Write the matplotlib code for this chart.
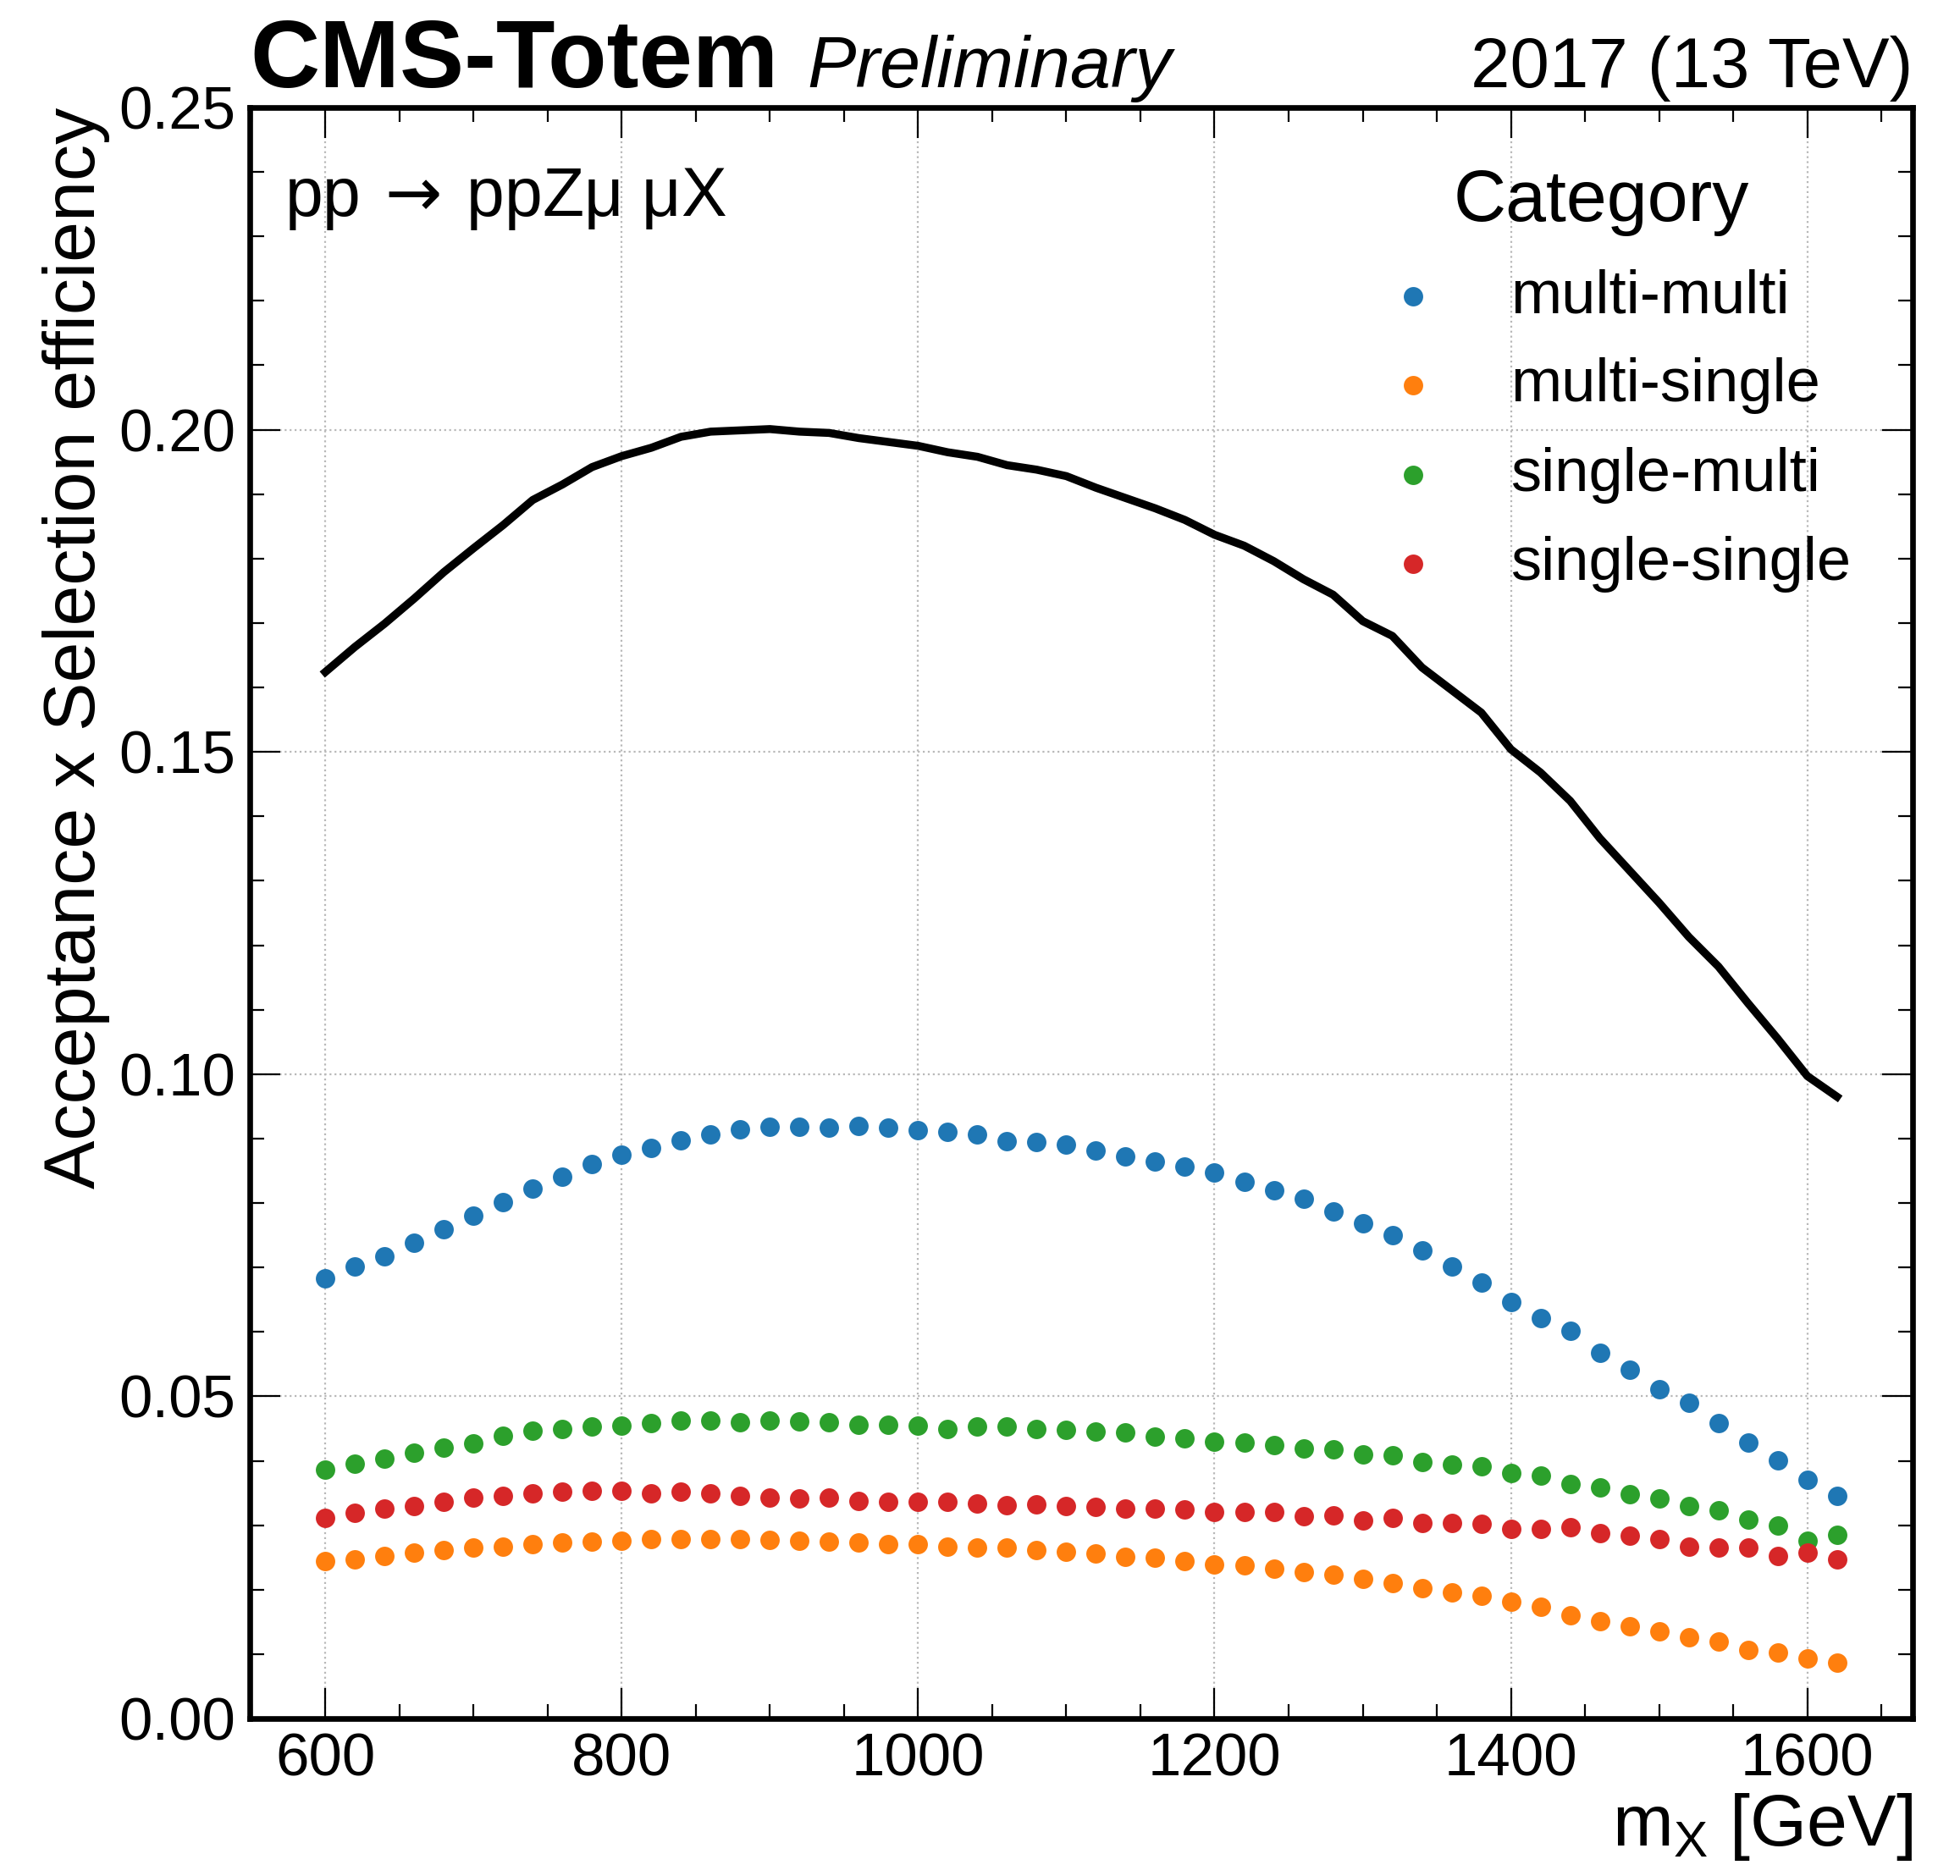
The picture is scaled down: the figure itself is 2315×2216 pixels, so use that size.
import matplotlib
matplotlib.use("Agg")
import matplotlib.pyplot as plt
from matplotlib.ticker import MultipleLocator, FormatStrFormatter
import numpy as np

plt.rcParams["font.family"] = ["Liberation Sans", "DejaVu Sans"]
plt.rcParams["mathtext.fontset"] = "custom"
plt.rcParams["mathtext.rm"] = "Liberation Sans"
plt.rcParams["mathtext.it"] = "Liberation Sans:italic"
plt.rcParams["mathtext.bf"] = "Liberation Sans:bold"

# Mass points [GeV]
mass = [600, 620, 640, 660, 680, 700, 720, 740, 760, 780,
        800, 820, 840, 860, 880, 900, 920, 940, 960, 980,
        1000, 1020, 1040, 1060, 1080, 1100, 1120, 1140, 1160, 1180,
        1200, 1220, 1240, 1260, 1280, 1300, 1320, 1340, 1360, 1380,
        1400, 1420, 1440, 1460, 1480, 1500, 1520, 1540, 1560, 1580,
        1600, 1620]

categories = ["multi-multi", "multi-single", "single-multi", "single-single"]

eff_multi_multi = [0.0683, 0.0702, 0.0718, 0.0738, 0.0759, 0.0781, 0.0801, 0.0823, 0.0841, 0.0860,
                   0.0875, 0.0885, 0.0897, 0.0906, 0.0915, 0.0918, 0.0918, 0.0917, 0.0920, 0.0917,
                   0.0913, 0.0911, 0.0906, 0.0896, 0.0895, 0.0891, 0.0881, 0.0873, 0.0864, 0.0857,
                   0.0847, 0.0833, 0.0820, 0.0807, 0.0787, 0.0768, 0.0750, 0.0727, 0.0702, 0.0677,
                   0.0646, 0.0622, 0.0602, 0.0568, 0.0541, 0.0511, 0.0490, 0.0458, 0.0429, 0.0401,
                   0.0370, 0.0346]

eff_multi_single = [0.0244, 0.0247, 0.0252, 0.0257, 0.0262, 0.0265, 0.0267, 0.0271, 0.0273, 0.0275,
                    0.0276, 0.0278, 0.0278, 0.0279, 0.0278, 0.0277, 0.0276, 0.0275, 0.0273, 0.0271,
                    0.0271, 0.0267, 0.0265, 0.0265, 0.0261, 0.0259, 0.0256, 0.0251, 0.0250, 0.0244,
                    0.0239, 0.0238, 0.0232, 0.0228, 0.0223, 0.0217, 0.0210, 0.0203, 0.0196, 0.0190,
                    0.0182, 0.0174, 0.0161, 0.0151, 0.0143, 0.0135, 0.0126, 0.0120, 0.0107, 0.0102,
                    0.0094, 0.0087]

eff_single_multi = [0.0386, 0.0395, 0.0403, 0.0413, 0.0421, 0.0427, 0.0439, 0.0447, 0.0449, 0.0453,
                    0.0454, 0.0459, 0.0462, 0.0462, 0.0460, 0.0463, 0.0461, 0.0460, 0.0456, 0.0456,
                    0.0454, 0.0450, 0.0453, 0.0453, 0.0450, 0.0448, 0.0445, 0.0444, 0.0438, 0.0435,
                    0.0430, 0.0428, 0.0424, 0.0419, 0.0418, 0.0410, 0.0409, 0.0398, 0.0394, 0.0392,
                    0.0381, 0.0377, 0.0364, 0.0359, 0.0348, 0.0341, 0.0330, 0.0323, 0.0309, 0.0300,
                    0.0276, 0.0285]

eff_single_single = [0.0311, 0.0319, 0.0326, 0.0330, 0.0337, 0.0343, 0.0345, 0.0350, 0.0352, 0.0354,
                     0.0354, 0.0350, 0.0352, 0.0350, 0.0346, 0.0343, 0.0342, 0.0343, 0.0338, 0.0337,
                     0.0337, 0.0337, 0.0334, 0.0331, 0.0332, 0.0330, 0.0328, 0.0326, 0.0326, 0.0324,
                     0.0321, 0.0321, 0.0320, 0.0314, 0.0316, 0.0308, 0.0311, 0.0303, 0.0304, 0.0302,
                     0.0295, 0.0295, 0.0297, 0.0288, 0.0284, 0.0279, 0.0267, 0.0266, 0.0265, 0.0252,
                     0.0257, 0.0247]

colors = ["#1f77b4", "#ff7f0e", "#2ca02c", "#d62728"]

series = [eff_multi_multi, eff_multi_single, eff_single_multi, eff_single_single]
total = np.sum(np.array(series), axis=0)

fig = plt.figure(figsize=(11.575, 11.08), dpi=200)
ax = fig.add_axes([0.1274, 0.0839, 0.8484, 0.8588])

# Total efficiency summed over categories
ax.plot(mass, total, color="black", lw=3.4, zorder=3)

for name, vals, col in zip(categories, series, colors):
    ax.scatter(mass, vals, s=68, color=col, linewidths=0, label=name, zorder=4)

ax.set_xlim(549, 1671)
ax.set_ylim(0, 0.25)
ax.xaxis.set_major_locator(MultipleLocator(200))
ax.xaxis.set_minor_locator(MultipleLocator(50))
ax.yaxis.set_major_locator(MultipleLocator(0.05))
ax.yaxis.set_minor_locator(MultipleLocator(0.01))
ax.yaxis.set_major_formatter(FormatStrFormatter("%.2f"))

ax.grid(True, which="major", color="#b8b8b8", linestyle=":", linewidth=0.8, zorder=0)
ax.set_axisbelow(True)

for sp in ax.spines.values():
    sp.set_linewidth(2.4)
ax.tick_params(which="both", direction="in", top=True, right=True, width=0.8)
ax.tick_params(which="major", length=13, labelsize=25.5, pad=6)
ax.tick_params(which="minor", length=6)

ax.set_xlabel(r"m$_{\mathrm{X}}$ [GeV]", fontsize=31, loc="right")
ax.set_ylabel("Acceptance x Selection efficiency", fontsize=31, loc="top")
ax.xaxis.set_label_coords(1.0, -0.045)
ax.yaxis.set_label_coords(-0.084, 1.0)

ax.text(0.0, 1.0126, "CMS-Totem", transform=ax.transAxes, fontsize=41,
        fontweight="bold", ha="left", va="baseline")
ax.text(0.335, 1.0126, "Preliminary", transform=ax.transAxes, fontsize=31,
        fontstyle="italic", ha="left", va="baseline")
ax.text(1.0, 1.0126, "2017 (13 TeV)", transform=ax.transAxes, fontsize=30,
        ha="right", va="baseline")
ax.text(0.021, 0.9327, r"pp$\,\rightarrow\,$ppZμ μX", transform=ax.transAxes,
        fontsize=29, ha="left", va="baseline", math_fontfamily="dejavusans")

leg = ax.legend(title="Category", frameon=False, fontsize=26, title_fontsize=31,
                loc="upper right", bbox_to_anchor=(0.985, 0.985),
                handletextpad=0.6, labelspacing=0.53, borderaxespad=0.2)

fig.savefig("out.png", dpi=200)
